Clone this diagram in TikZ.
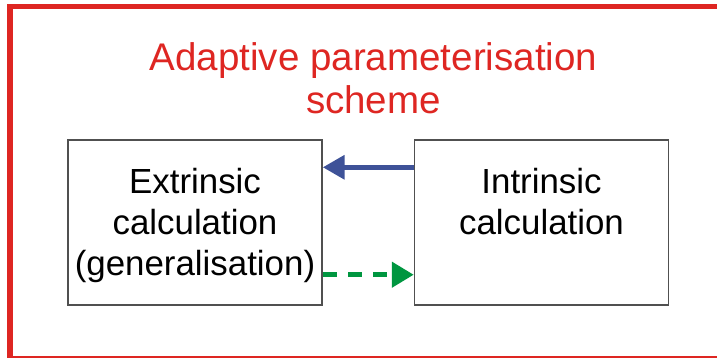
\documentclass[tikz,border=0pt]{standalone}
\usepackage{fontspec}
\setmainfont{Liberation Sans}
\usetikzlibrary{arrows.meta}
\definecolor{frameRed}{RGB}{222,38,34}
\definecolor{flowBlue}{RGB}{62,82,152}
\definecolor{flowGreen}{RGB}{0,150,64}
\definecolor{boxGray}{RGB}{80,80,80}
\tikzset{calcbox/.style={draw=boxGray,line width=1pt,minimum width=6.35cm,minimum height=4.125cm,inner sep=0pt},
 calctext/.style={align=center,inner sep=0pt,font=\fontsize{24.8}{29}\selectfont},
 feedback/.style={draw=flowBlue,line width=3.8pt,-{Triangle[length=15.5pt,width=16.5pt]}},
 forward/.style={draw=flowGreen,line width=3.6pt,dash pattern=on 10pt off 8pt,-{Triangle[length=15.5pt,width=17.5pt]}},
 every picture/.style={line join=miter}}

\begin{document}
\begin{tikzpicture}[x=0.025cm,y=-0.025cm]
\useasboundingbox (0,0) rectangle (717,357);
\clip (0,0) rectangle (717,357);
\path[draw=frameRed,line width=3.6pt] (10,6.5) rectangle (724,358.5);
\node[align=center,inner sep=0pt,text=frameRed,font=\fontsize{27.4}{30.6}\selectfont,anchor=north] (title) at (373.5,42.5) {Adaptive parameterisation\\scheme};
\node[calcbox] (extr) at (195,222.5) {};
\node[calcbox] (intr) at (541.5,222.5) {};
\node[calctext,anchor=north] (extrtext) at ([yshift=-0.72cm]extr.north) {Extrinsic\\calculation\\(generalisation)};
\node[calctext,anchor=north] (intrtext) at ([yshift=-0.72cm]intr.north) {Intrinsic\\calculation};
\draw[feedback] ([yshift=-0.7cm]intr.north west) -- ([yshift=-0.7cm]extr.north east);
\draw[forward] ([yshift=0.775cm]extr.south east) -- ([yshift=0.775cm]intr.south west);
\end{tikzpicture}
\end{document}
